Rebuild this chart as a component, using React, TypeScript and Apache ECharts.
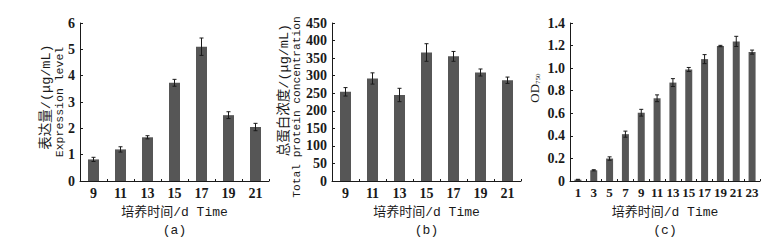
import React, { useEffect, useRef } from "react";
import * as echarts from "echarts";

const catsAB = ["9", "11", "13", "15", "17", "19", "21"];
const exprLevel = [0.82, 1.2, 1.66, 3.73, 5.1, 2.5, 2.05];
const exprErr = [0.08, 0.1, 0.06, 0.13, 0.33, 0.13, 0.14];

const proteinConc = [254, 292, 245, 366, 355, 309, 287];
const proteinErr = [12, 16, 19, 25, 14, 10, 9];

const catsC = ["1", "3", "5", "7", "9", "11", "13", "15", "17", "19", "21", "23"];
const od750 = [0.012, 0.095, 0.199, 0.415, 0.605, 0.733, 0.872, 0.988, 1.08, 1.196, 1.237, 1.142];
const odErr = [0.003, 0.005, 0.015, 0.027, 0.03, 0.03, 0.035, 0.018, 0.04, 0.006, 0.045, 0.018];

const xTitle = "培养时间/d Time";
const yTitleA = ["表达量/(μg/mL)", "Expression level"];
const yTitleB = ["总蛋白浓度/(μg/mL)", "Total protein concentration"];
const panelLabels = ["(a)", "(b)", "(c)"];

const INK = "#1a1a1a";
const BAR = "#565656";
const NUM_FONT = "'Liberation Serif', serif";
const MIX_FONT = "'Liberation Mono', 'Noto Sans CJK SC', monospace";

const errRender = (params: any, api: any) => {
  const i = api.value(0);
  const v = api.value(1);
  const e = api.value(2);
  const top = api.coord([i, v + e]);
  const bot = api.coord([i, v - e]);
  const hw = 2;
  const st = { stroke: INK, lineWidth: 1 };
  return {
    type: "group",
    children: [
      { type: "line", shape: { x1: top[0], y1: top[1], x2: bot[0], y2: bot[1] }, style: st },
      { type: "line", shape: { x1: top[0] - hw, y1: top[1], x2: top[0] + hw, y2: top[1] }, style: st },
      { type: "line", shape: { x1: bot[0] - hw, y1: bot[1], x2: bot[0] + hw, y2: bot[1] }, style: st },
    ],
  };
};

function makeX(idx: number, cats: string[], size: number) {
  return {
    type: "category",
    gridIndex: idx,
    data: cats,
    boundaryGap: true,
    axisLine: { show: true, lineStyle: { color: INK, width: 1 } },
    axisTick: { show: true, inside: true, length: 2, lineStyle: { color: INK } },
    axisLabel: { fontFamily: NUM_FONT, fontSize: size, fontWeight: "bold", color: INK, margin: 5, interval: 0 },
    splitLine: { show: false },
  };
}

function makeY(idx: number, max: number, interval: number, fmt?: (v: number) => string) {
  return {
    type: "value",
    gridIndex: idx,
    min: 0,
    max,
    interval,
    axisLine: { show: true, lineStyle: { color: INK, width: 1 } },
    axisTick: { show: true, inside: true, length: 3, lineStyle: { color: INK } },
    axisLabel: { fontFamily: NUM_FONT, fontSize: 14, fontWeight: "bold", color: INK, margin: 5, formatter: fmt },
    splitLine: { show: false },
  };
}

export default function App() {
  const ref = useRef<HTMLDivElement>(null);
  useEffect(() => {
    if (!ref.current) return;
    const chart = echarts.init(ref.current, null, { renderer: "svg" });
    const grids = [
      { left: 80, top: 23, width: 189, height: 158 },
      { left: 332, top: 23, width: 189, height: 158 },
      { left: 570, top: 23, width: 190, height: 158 },
    ];
    const rotText = (text: string, x: number, y: number, size = 12) => ({
      type: "text",
      x,
      y,
      rotation: Math.PI / 2,
      style: { text, font: `${size}px ${MIX_FONT}`, fill: INK, align: "center", verticalAlign: "middle" },
    });
    const hText = (text: string, x: number, y: number, size = 12.5) => ({
      type: "text",
      x,
      y,
      style: { text, font: `${size}px ${MIX_FONT}`, fill: INK, align: "center", verticalAlign: "middle" },
    });
    const centers = grids.map((g) => g.left + g.width / 2);
    chart.setOption({
      animation: false,
      backgroundColor: "#ffffff",
      grid: grids,
      xAxis: [makeX(0, catsAB, 14), makeX(1, catsAB, 14), makeX(2, catsC, 13)],
      yAxis: [
        makeY(0, 6, 1),
        makeY(1, 450, 50),
        makeY(2, 1.4, 0.2, (v: number) => (v === 0 ? "0" : v.toFixed(1))),
      ],
      series: [
        { type: "bar", xAxisIndex: 0, yAxisIndex: 0, data: exprLevel, barWidth: 11, itemStyle: { color: BAR } },
        { type: "bar", xAxisIndex: 1, yAxisIndex: 1, data: proteinConc, barWidth: 11, itemStyle: { color: BAR } },
        { type: "bar", xAxisIndex: 2, yAxisIndex: 2, data: od750, barWidth: 7, itemStyle: { color: BAR } },
        {
          type: "custom", xAxisIndex: 0, yAxisIndex: 0, z: 5, renderItem: errRender,
          encode: { x: 0, y: 1 }, data: exprLevel.map((v, i) => [i, v, exprErr[i]]),
        },
        {
          type: "custom", xAxisIndex: 1, yAxisIndex: 1, z: 5, renderItem: errRender,
          encode: { x: 0, y: 1 }, data: proteinConc.map((v, i) => [i, v, proteinErr[i]]),
        },
        {
          type: "custom", xAxisIndex: 2, yAxisIndex: 2, z: 5, renderItem: errRender,
          encode: { x: 0, y: 1 }, data: od750.map((v, i) => [i, v, odErr[i]]),
        },
      ],
      graphic: [
        rotText(yTitleA[0], 46, 97, 13.5),
        rotText(yTitleA[1], 59, 102, 11.5),
        rotText(yTitleB[0], 284, 90, 13.5),
        rotText(yTitleB[1], 297, 107, 11.2),
        {
          type: "text",
          x: 534,
          y: 88,
          rotation: Math.PI / 2,
          style: {
            text: "{a|OD}{s|750}",
            align: "center",
            verticalAlign: "middle",
            fill: INK,
            rich: {
              a: { fontFamily: NUM_FONT, fontSize: 13, color: INK, verticalAlign: "middle", lineHeight: 14 },
              s: { fontFamily: NUM_FONT, fontSize: 7, color: INK, verticalAlign: "bottom", lineHeight: 14, padding: [6, 0, 0, 0] },
            },
          },
        },
        hText(xTitle, centers[0], 212, 13),
        hText(xTitle, centers[1], 212, 13),
        hText(xTitle, centers[2], 212, 13),
        hText(panelLabels[0], centers[0], 230, 13),
        hText(panelLabels[1], centers[1], 230, 13),
        hText(panelLabels[2], centers[2], 230, 13),
      ],
    });
    return () => chart.dispose();
  }, []);
  return <div ref={ref} style={{ position: "absolute", left: 0, top: 0, width: 779, height: 248 }} />;
}
